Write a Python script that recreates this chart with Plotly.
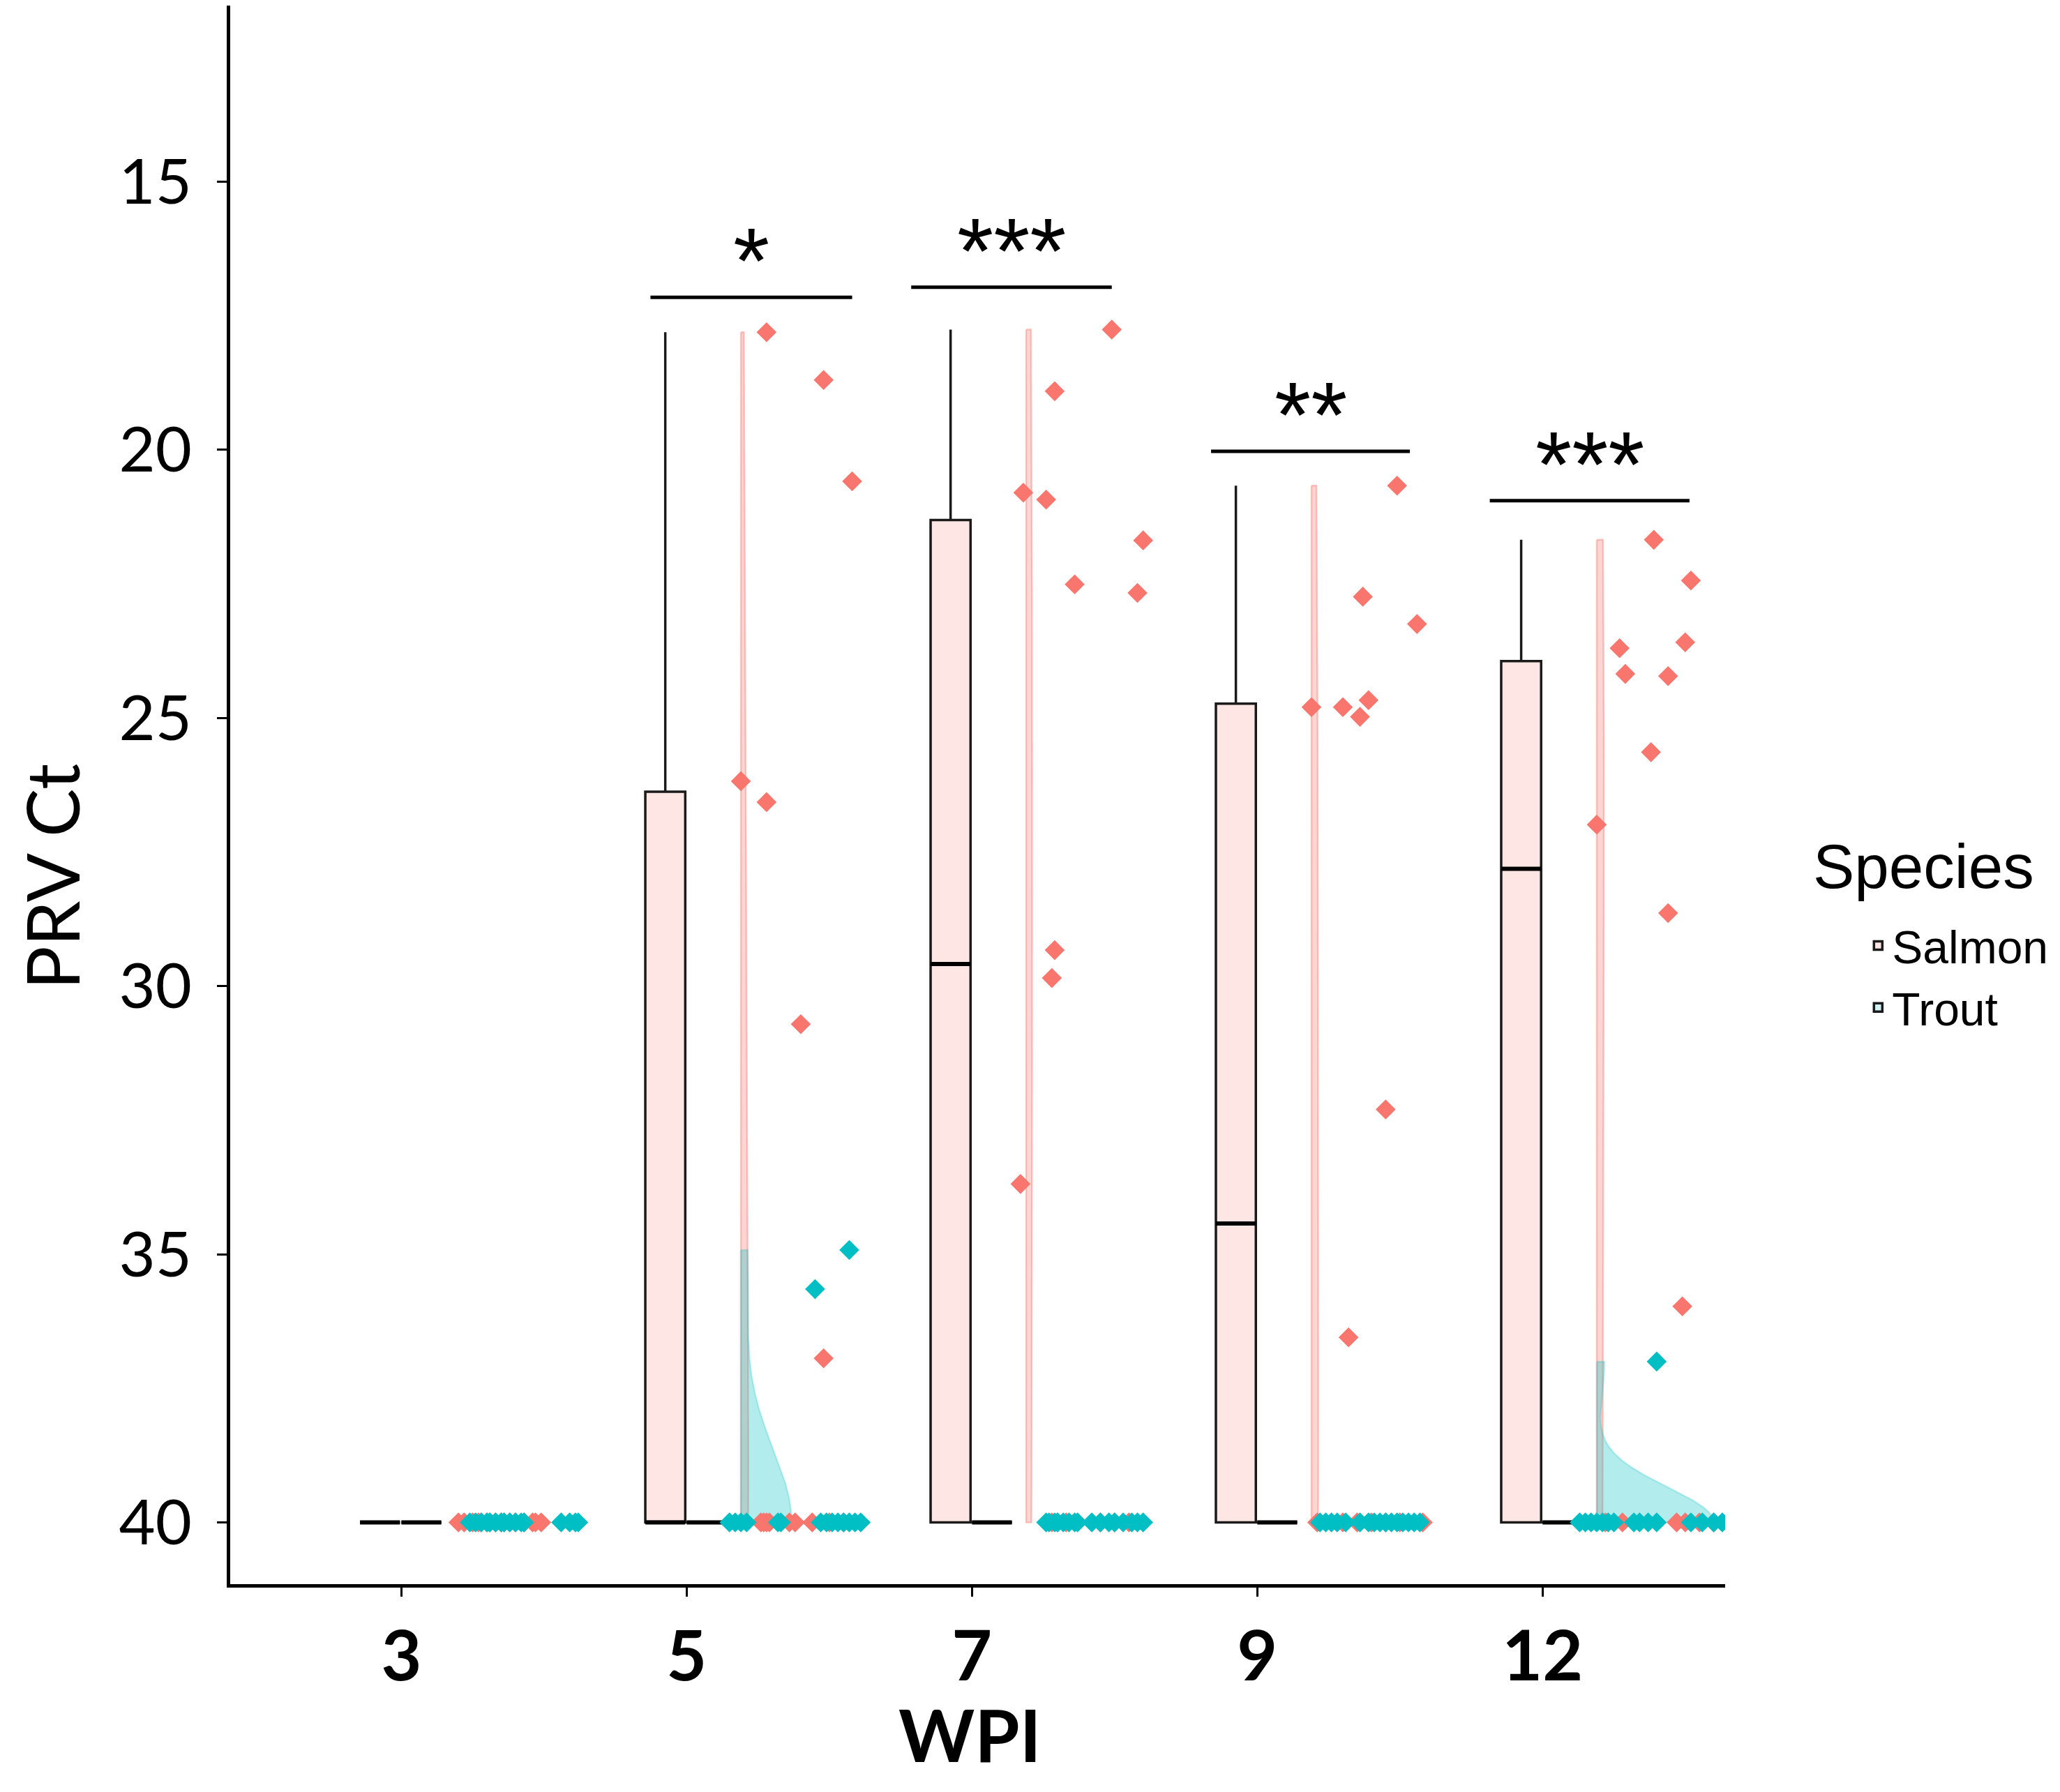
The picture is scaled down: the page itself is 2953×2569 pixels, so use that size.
import numpy as np
import plotly.graph_objects as go

# ---------------- data ----------------
wpi_labels = ["3", "5", "7", "9", "12"]
species = ["Salmon", "Trout"]

salmon_ct_3 = [40, 40, 40, 40, 40, 40, 40, 40, 40, 40, 40, 40, 40, 40, 40, 40]
salmon_jit_3 = [0.20, 0.46, 0.49, 0.47, 0.25, 0.30, 0.35, 0.40, 0.22, 0.28, 0.33, 0.38, 0.43, 0.27, 0.31, 0.36]
trout_ct_3 = [40, 40, 40, 40, 40, 40, 40, 40, 40, 40, 40, 40, 40, 40, 40, 40]
trout_jit_3 = [0.24, 0.26, 0.28, 0.30, 0.31, 0.33, 0.35, 0.36, 0.38, 0.40, 0.42, 0.43, 0.56, 0.59, 0.61, 0.62]

salmon_ct_5 = [17.81, 18.70, 20.59, 26.18, 26.57, 30.71, 36.94, 40, 40, 40, 40, 40, 40, 40, 40, 40]
salmon_jit_5 = [0.28, 0.48, 0.58, 0.19, 0.28, 0.40, 0.48, 0.26, 0.28, 0.29, 0.38, 0.44, 0.27, 0.36, 0.50, 0.55]
trout_ct_5 = [34.92, 35.65, 40, 40, 40, 40, 40, 40, 40, 40, 40, 40, 40, 40, 40, 40]
trout_jit_5 = [0.57, 0.45, 0.15, 0.17, 0.19, 0.21, 0.32, 0.33, 0.47, 0.49, 0.51, 0.53, 0.55, 0.57, 0.59, 0.61]

salmon_ct_7 = [17.76, 18.91, 20.80, 20.93, 21.69, 22.51, 22.67, 29.33, 29.85, 33.69, 40, 40, 40, 40, 40, 40]
salmon_jit_7 = [0.49, 0.29, 0.18, 0.26, 0.60, 0.36, 0.58, 0.29, 0.28, 0.17, 0.28, 0.33, 0.45, 0.50, 0.55, 0.30]
trout_ct_7 = [40, 40, 40, 40, 40, 40, 40, 40, 40, 40, 40, 40, 40, 40, 40, 40]
trout_jit_7 = [0.26, 0.27, 0.29, 0.30, 0.32, 0.34, 0.36, 0.37, 0.42, 0.45, 0.48, 0.50, 0.53, 0.56, 0.58, 0.60]

salmon_ct_9 = [20.67, 22.74, 23.25, 24.67, 24.80, 24.80, 24.98, 32.30, 36.55, 40, 40, 40, 40, 40, 40, 40]
salmon_jit_9 = [0.49, 0.37, 0.56, 0.39, 0.19, 0.30, 0.36, 0.45, 0.32, 0.21, 0.58, 0.30, 0.40, 0.45, 0.35, 0.50]
trout_ct_9 = [40, 40, 40, 40, 40, 40, 40, 40, 40, 40, 40, 40, 40, 40, 40, 40]
trout_jit_9 = [0.22, 0.24, 0.26, 0.28, 0.31, 0.36, 0.39, 0.41, 0.43, 0.45, 0.47, 0.49, 0.51, 0.53, 0.55, 0.57]

salmon_ct_12 = [21.68, 22.44, 23.59, 23.70, 24.18, 24.22, 25.64, 26.99, 28.64, 35.97, 40, 40, 40, 40, 40, 40]
salmon_jit_12 = [0.39, 0.52, 0.50, 0.27, 0.29, 0.44, 0.38, 0.19, 0.44, 0.49, 0.28, 0.47, 0.50, 0.55, 0.60, 0.22]
trout_ct_12 = [37.0, 40, 40, 40, 40, 40, 40, 40, 40, 40, 40, 40, 40, 40, 40, 40]
trout_jit_12 = [0.40, 0.13, 0.15, 0.17, 0.19, 0.21, 0.23, 0.25, 0.32, 0.34, 0.37, 0.40, 0.52, 0.56, 0.60, 0.63]

# significance brackets
sig_labels = ["*", "***", "**", "***"]
sig_wpi = ["5", "7", "9", "12"]
sig_ct = [17.16, 16.97, 20.03, 20.95]
sig_from = [-0.127, -0.213, -0.162, -0.185]
sig_to = [0.58, 0.49, 0.535, 0.515]

y_ticks = [15, 20, 25, 30, 35, 40]

salmon_groups = [(salmon_ct_3, salmon_jit_3), (salmon_ct_5, salmon_jit_5), (salmon_ct_7, salmon_jit_7),
                 (salmon_ct_9, salmon_jit_9), (salmon_ct_12, salmon_jit_12)]
trout_groups = [(trout_ct_3, trout_jit_3), (trout_ct_5, trout_jit_5), (trout_ct_7, trout_jit_7),
                (trout_ct_9, trout_jit_9), (trout_ct_12, trout_jit_12)]

# ---------------- style ----------------
SALMON = "#F8766D"
TROUT = "#00BFC4"
BOX_FILL = {"Salmon": "rgba(248,118,109,0.18)", "Trout": "rgba(0,191,196,0.18)"}
VIO_FILL = {"Salmon": "rgba(248,118,109,0.30)", "Trout": "rgba(0,191,196,0.30)"}
VIO_LINE = {"Salmon": "rgba(248,118,109,0.40)", "Trout": "rgba(0,191,196,0.22)"}
PT_COL = {"Salmon": SALMON, "Trout": TROUT}
BOX_OFF = {"Salmon": -0.075, "Trout": 0.070}
BOX_W = 0.140
VIO_OFF = 0.19
VIO_MAX = 0.41    # widest half-violin, in category units
BW_ADJUST = 1.7   # kernel bandwidth multiplier


def nrd0(v):
    """R's default bandwidth (bw.nrd0)."""
    v = np.asarray(v, float)
    hi = np.std(v, ddof=1)
    q1, q3 = np.percentile(v, [25, 75])
    lo = min(hi, (q3 - q1) / 1.34)
    if not lo:
        lo = hi or abs(v[0]) or 1.0
    return 0.9 * lo * len(v) ** -0.2


def kde(v, n=256):
    v = np.asarray(v, float)
    bw = nrd0(v) * BW_ADJUST
    grid = np.linspace(v.min(), v.max(), n)
    z = (grid[:, None] - v[None, :]) / bw
    dens = np.exp(-0.5 * z ** 2).sum(axis=1) / (len(v) * bw * np.sqrt(2 * np.pi))
    return grid, dens


W, H = 2937, 2553
fig = go.Figure()

# boxes (outlier markers hidden, whiskers follow the 1.5 IQR rule)
for sp, groups in (("Salmon", salmon_groups), ("Trout", trout_groups)):
    xs, ys = [], []
    for i, (ct, _) in enumerate(groups):
        xs += [i + BOX_OFF[sp]] * len(ct)
        ys += list(ct)
    fig.add_trace(go.Box(
        x=xs, y=ys, name=sp, legendgroup=sp, showlegend=True,
        boxpoints="outliers", quartilemethod="inclusive", width=BOX_W,
        fillcolor=BOX_FILL[sp], line=dict(color="#1a1a1a", width=3.5),
        whiskerwidth=0, marker=dict(color="rgba(0,0,0,0)", size=1, opacity=0),
        hoverinfo="skip",
    ))

# thicker median bars (ggplot's fatten = 2)
for sp, groups in (("Salmon", salmon_groups), ("Trout", trout_groups)):
    mx, my = [], []
    for i, (ct, _) in enumerate(groups):
        med = float(np.median(ct))
        c = i + BOX_OFF[sp]
        mx += [c - BOX_W / 2, c + BOX_W / 2, None]
        my += [med, med, None]
    fig.add_trace(go.Scatter(x=mx, y=my, mode="lines", line=dict(color="black", width=6),
                             showlegend=False, hoverinfo="skip"))

# half violins (area-scaled like ggplot: common density scale)
vio = []
for sp, groups in (("Salmon", salmon_groups), ("Trout", trout_groups)):
    for i, (ct, _) in enumerate(groups):
        if max(ct) - min(ct) <= 0:
            continue
        g, d = kde(ct)
        vio.append((sp, i, g, d))
dmax = max(d.max() for _, _, _, d in vio)
for sp, i, g, d in vio:
    base = i + VIO_OFF
    xs = [base] + list(base + d / dmax * VIO_MAX) + [base, base]
    ys = [g[0]] + list(g) + [g[-1], g[0]]
    fig.add_trace(go.Scatter(
        x=xs, y=ys, mode="lines", fill="toself", fillcolor=VIO_FILL[sp],
        line=dict(color=VIO_LINE[sp], width=2.5), showlegend=False,
        legendgroup=sp, name=sp, hoverinfo="skip",
    ))

# jittered points
for sp, groups in (("Salmon", salmon_groups), ("Trout", trout_groups)):
    xs, ys = [], []
    for i, (ct, jit) in enumerate(groups):
        xs += [i + j for j in jit]
        ys += list(ct)
    fig.add_trace(go.Scatter(
        x=xs, y=ys, mode="markers", showlegend=False, legendgroup=sp, name=sp,
        marker=dict(symbol="diamond", size=22, color=PT_COL[sp], line=dict(width=0)),
    ))

# significance brackets
for lab, w, yv, a, b in zip(sig_labels, sig_wpi, sig_ct, sig_from, sig_to):
    i = wpi_labels.index(w)
    fig.add_shape(type="line", xref="x", yref="y", x0=i + a, x1=i + b, y0=yv, y1=yv,
                  line=dict(color="black", width=5))
    fig.add_annotation(x=i + (a + b) / 2, y=yv, xref="x", yref="y", text=lab,
                       showarrow=False, yanchor="bottom", yshift=-24,
                       font=dict(family="Liberation Sans", size=134, color="black"))

# axis titles and legend title as free text
fig.add_annotation(x=-0.1195, y=0.4481, xref="paper", yref="paper", text="PRV Ct",
                   textangle=-90, showarrow=False, xanchor="center", yanchor="middle",
                   font=dict(family="Lato", size=104, color="black"))
fig.add_annotation(x=0.495, y=-0.0946, xref="paper", yref="paper", text="WPI",
                   showarrow=False, xanchor="center", yanchor="middle",
                   font=dict(family="Lato", size=104, color="black", weight="bold"))
fig.add_annotation(x=1.058, y=0.4547, xref="paper", yref="paper", text="Species",
                   showarrow=False, xanchor="left", yanchor="middle",
                   font=dict(family="Liberation Sans", size=89, color="black"))

fig.update_layout(
    width=W, height=H,
    margin=dict(l=322, r=472, t=0, b=290),
    paper_bgcolor="white", plot_bgcolor="white",
    boxmode="overlay",
    legend=dict(
        font=dict(family="Liberation Sans", size=66, color="black"),
        x=1.093, xanchor="left", y=0.4264, yanchor="top",
        bgcolor="rgba(0,0,0,0)", tracegroupgap=0,
    ),
    showlegend=True,
)
fig.update_xaxes(
    range=[-0.60, 4.64], tickmode="array", tickvals=list(range(len(wpi_labels))),
    ticktext=wpi_labels, showgrid=False, zeroline=False, showline=True,
    linecolor="black", linewidth=5, ticks="outside", ticklen=13, tickwidth=3,
    tickcolor="black", automargin=False, ticklabelstandoff=0,
    tickfont=dict(family="Lato", size=100, color="black", weight="bold"),
)
fig.update_yaxes(
    range=[41.15, 11.72], tickmode="array", tickvals=y_ticks,
    ticktext=[str(t) for t in y_ticks], showgrid=False, zeroline=False,
    showline=True, linecolor="black", linewidth=5, ticks="outside",
    ticklen=14, tickwidth=3, tickcolor="black", automargin=False,
    ticklabelstandoff=18,
    tickfont=dict(family="Lato", size=90, color="black"),
)

fig.write_html("out.html")
